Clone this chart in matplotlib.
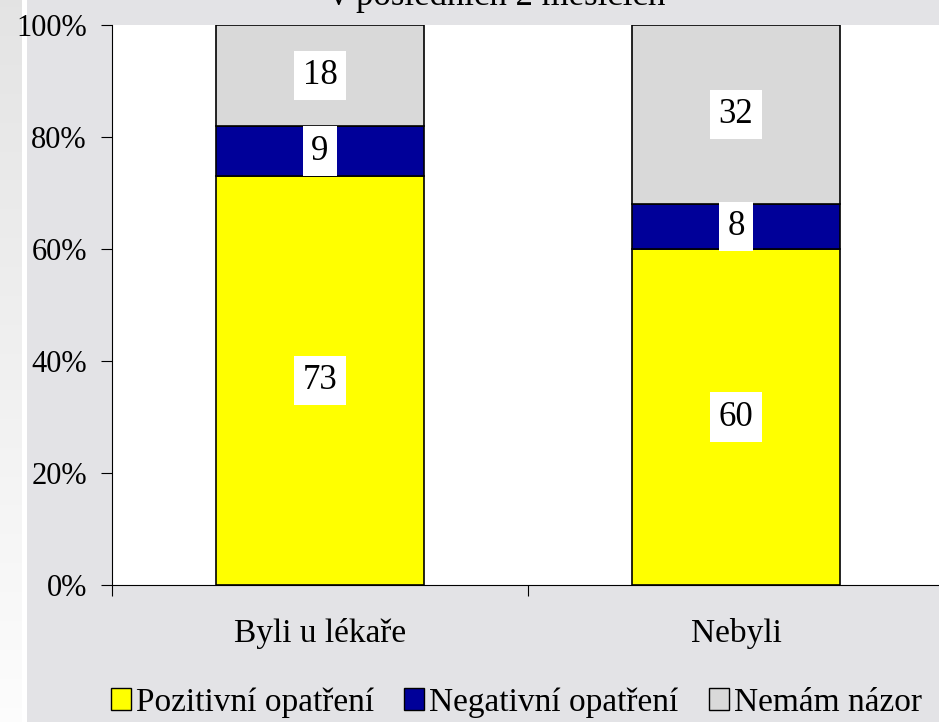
import numpy as np
import matplotlib.pyplot as plt
from matplotlib.patches import Patch

categories = ['Byli u lékaře', 'Nebyli']
series_names = ['Pozitivní opatření', 'Negativní opatření', 'Nemám názor']
positive = [73, 60]
negative = [9, 8]
no_opinion = [18, 32]
colors = ['#ffff00', '#000099', '#d9d9d9']
title = 'v posledních 2 měsících'

plt.rcParams['font.family'] = ['Liberation Serif', 'DejaVu Serif']

fig = plt.figure(figsize=(9.39, 7.22), dpi=100)
fig.patch.set_facecolor('#e4e4e6')

# background: light gradient strip on the left
bg = fig.add_axes([0, 0, 1, 1], zorder=-10)
grad = np.ones((100, 939, 3)) * np.array([0.894, 0.894, 0.902])
left = np.linspace(0, 1, 100)[:, None]
for c in range(3):
    grad[:, :22, c] = 0.894 + (1 - 0.894) * left * 0.9
grad[:, 22:27, :] = 1.0
bg.imshow(grad, aspect='auto', extent=[0, 1, 0, 1])
bg.axis('off')

ax = fig.add_axes([112 / 939, 1 - 585 / 722, 832 / 939, 560 / 722])
ax.set_facecolor('white')

x = np.arange(len(categories))
stacks = [positive, negative, no_opinion]
bottom = np.zeros(len(categories))
for vals, col, name in zip(stacks, colors, series_names):
    ax.bar(x, vals, 0.5, bottom=bottom, color=col, edgecolor='black',
           linewidth=1.2, label=name)
    for xi, b, v in zip(x, bottom, vals):
        ax.text(xi, b + v / 2, str(v), ha='center', va='center', fontsize=25,
                bbox=dict(facecolor='white', edgecolor='none', pad=6))
    bottom += np.array(vals)

ax.set_xlim(-0.5, 1.5)
ax.set_ylim(0, 100)
ax.set_yticks(np.arange(0, 101, 20))
ax.set_yticklabels([f'{v}%' for v in range(0, 101, 20)], fontsize=22)
ax.set_xticks([-0.5, 0.5, 1.5])
ax.set_xticklabels([])
ax.set_xticks(x, minor=True)
ax.set_xticklabels(categories, minor=True, fontsize=24)
ax.tick_params(axis='x', which='minor', length=0, pad=24)
ax.tick_params(axis='x', which='major', length=8, direction='out')
ax.tick_params(axis='y', length=8, direction='out', pad=10)
for s in ['top', 'right']:
    ax.spines[s].set_visible(False)

fig.text(0.53, 1 - 5 / 722, title, ha='center', va='baseline', fontsize=25)

handles = [Patch(facecolor=c, edgecolor='black', label=n)
           for c, n in zip(colors, series_names)]
fig.legend(handles=handles, loc='center', bbox_to_anchor=(0.55, 0.027),
           ncol=3, frameon=False, fontsize=24, handlelength=0.6,
           handleheight=0.6, handletextpad=0.15, columnspacing=0.9,
           borderpad=0)

fig.savefig('out.png', dpi=100, facecolor=fig.get_facecolor())
